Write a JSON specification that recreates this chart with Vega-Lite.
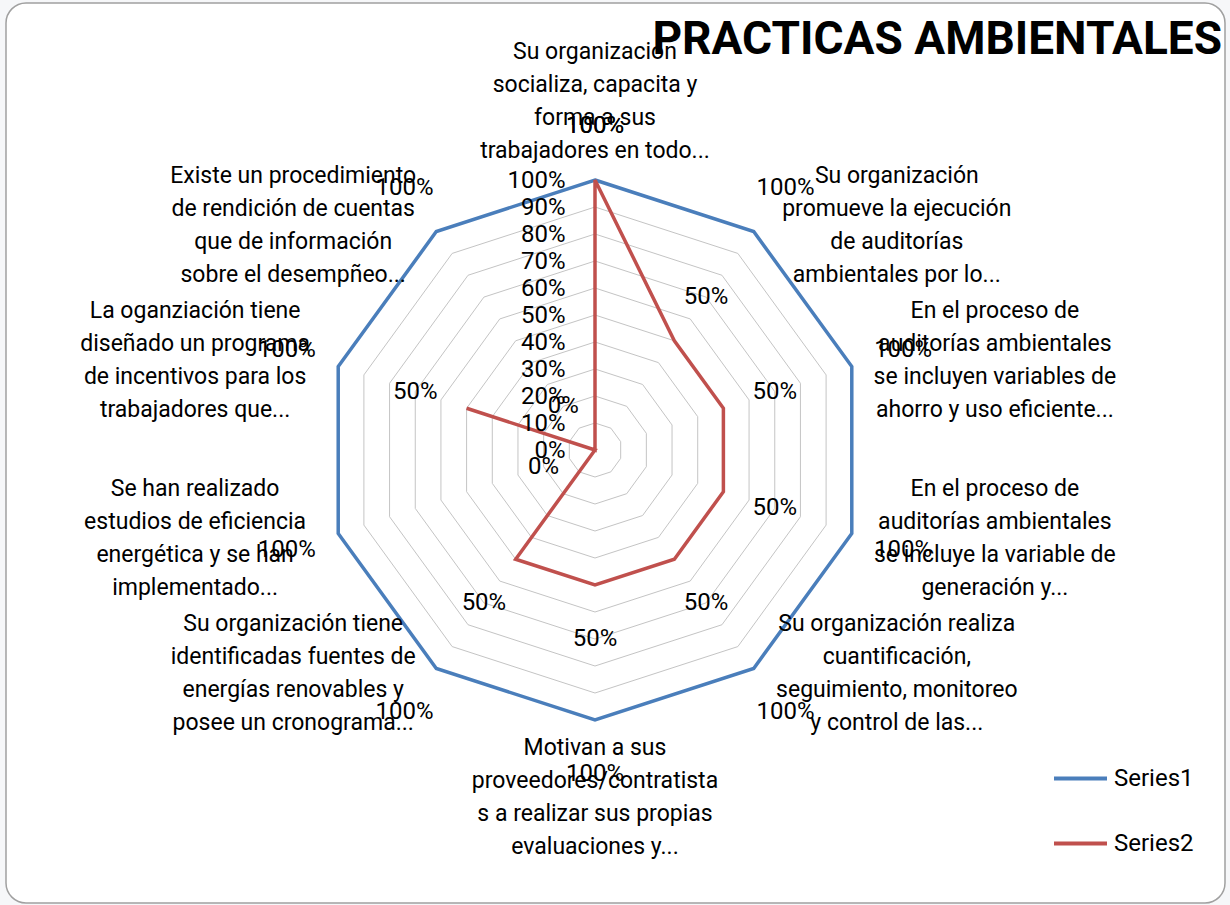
{
  "$schema": "https://vega.github.io/schema/vega-lite/v6.json",
  "width": 1219,
  "height": 900,
  "autosize": {"type": "none"},
  "padding": {"left": 6, "top": 3, "right": 5, "bottom": 2},
  "background": "#f6f7f9",
  "title": {
    "text": "PRACTICAS AMBIENTALES",
    "font": "Roboto",
    "fontSize": 46,
    "fontWeight": "bold",
    "color": "#000000",
    "anchor": "end",
    "frame": "group",
    "orient": "top",
    "baseline": "alphabetic",
    "offset": -52,
    "dx": -3,
    "dy": 45
  },
  "datasets": {
    "cats": [
      {"i": 0, "lines": ["Su organización", "socializa, capacita y", "forma a sus", "trabajadores en todo..."]},
      {"i": 1, "lines": ["Su organización", "promueve la ejecución", "de auditorías", "ambientales por lo..."]},
      {"i": 2, "lines": ["En el proceso de", "auditorías ambientales", "se incluyen variables de", "ahorro y uso eficiente..."]},
      {"i": 3, "lines": ["En el proceso de", "auditorías ambientales", "se incluye la variable de", "generación y..."]},
      {"i": 4, "lines": ["Su organización realiza", "cuantificación,", "seguimiento, monitoreo", "y control de las..."]},
      {"i": 5, "lines": ["Motivan a sus", "proveedores/contratista", "s a realizar sus propias", "evaluaciones y..."]},
      {"i": 6, "lines": ["Su organización tiene", "identificadas fuentes de", "energías renovables y", "posee un cronograma..."]},
      {"i": 7, "lines": ["Se han realizado", "estudios de eficiencia", "energética y se han", "implementado..."]},
      {"i": 8, "lines": ["La oganziación tiene", "diseñado un programa", "de incentivos para los", "trabajadores que..."]},
      {"i": 9, "lines": ["Existe un procedimiento", "de rendición de cuentas", "que de información", "sobre el desempñeo..."]}
    ],
    "vals": [
      {"i": 0, "series": "Series1", "value": 1},
      {"i": 1, "series": "Series1", "value": 1},
      {"i": 2, "series": "Series1", "value": 1},
      {"i": 3, "series": "Series1", "value": 1},
      {"i": 4, "series": "Series1", "value": 1},
      {"i": 5, "series": "Series1", "value": 1},
      {"i": 6, "series": "Series1", "value": 1},
      {"i": 7, "series": "Series1", "value": 1},
      {"i": 8, "series": "Series1", "value": 1},
      {"i": 9, "series": "Series1", "value": 1},
      {"i": 0, "series": "Series2", "value": 1},
      {"i": 1, "series": "Series2", "value": 0.5},
      {"i": 2, "series": "Series2", "value": 0.5},
      {"i": 3, "series": "Series2", "value": 0.5},
      {"i": 4, "series": "Series2", "value": 0.5},
      {"i": 5, "series": "Series2", "value": 0.5},
      {"i": 6, "series": "Series2", "value": 0.5},
      {"i": 7, "series": "Series2", "value": 0},
      {"i": 8, "series": "Series2", "value": 0.5},
      {"i": 9, "series": "Series2", "value": 0}
    ],
    "levels": [
      {"level": 0.1, "k": [0, 1, 2, 3, 4, 5, 6, 7, 8, 9]},
      {"level": 0.2, "k": [0, 1, 2, 3, 4, 5, 6, 7, 8, 9]},
      {"level": 0.3, "k": [0, 1, 2, 3, 4, 5, 6, 7, 8, 9]},
      {"level": 0.4, "k": [0, 1, 2, 3, 4, 5, 6, 7, 8, 9]},
      {"level": 0.5, "k": [0, 1, 2, 3, 4, 5, 6, 7, 8, 9]},
      {"level": 0.6, "k": [0, 1, 2, 3, 4, 5, 6, 7, 8, 9]},
      {"level": 0.7, "k": [0, 1, 2, 3, 4, 5, 6, 7, 8, 9]},
      {"level": 0.8, "k": [0, 1, 2, 3, 4, 5, 6, 7, 8, 9]},
      {"level": 0.9, "k": [0, 1, 2, 3, 4, 5, 6, 7, 8, 9]},
      {"level": 1.0, "k": [0, 1, 2, 3, 4, 5, 6, 7, 8, 9]}
    ]
  },
  "encoding": {
    "x": {"field": "px", "type": "quantitative", "scale": {"domain": [-2.18148, 2.33333], "nice": false, "zero": false}, "axis": null},
    "y": {
      "field": "py", "type": "quantitative",
      "scale": {"domain": [-1.67778, 1.65556], "nice": false, "zero": false},
      "axis": {
        "title": null,
        "values": [0, 0.1, 0.2, 0.3, 0.4, 0.5, 0.6, 0.7, 0.8, 0.9, 1],
        "format": ".0%",
        "domain": false,
        "ticks": false,
        "tickSize": 0,
        "grid": false,
        "labelPadding": 0,
        "offset": -559,
        "labelFont": "Roboto",
        "labelFontSize": 24,
        "labelColor": "#000000",
        "labelOverlap": false,
        "labelBound": false,
        "zindex": 1
      }
    }
  },
  "layer": [
    {
      "data": {"name": "levels"},
      "transform": [
        {"flatten": ["k"]},
        {"calculate": "datum.level * sin(datum.k * PI / 5)", "as": "px"},
        {"calculate": "datum.level * cos(datum.k * PI / 5)", "as": "py"}
      ],
      "mark": {"type": "line", "interpolate": "linear-closed", "stroke": "#c4c4c4", "strokeWidth": 1},
      "encoding": {
        "detail": {"field": "level", "type": "nominal"},
        "order": {"field": "k", "type": "quantitative"}
      }
    },
    {
      "data": {"name": "vals"},
      "transform": [
        {"calculate": "datum.value * sin(datum.i * PI / 5)", "as": "px"},
        {"calculate": "datum.value * cos(datum.i * PI / 5)", "as": "py"}
      ],
      "mark": {"type": "line", "interpolate": "linear-closed", "strokeWidth": 3.5, "strokeJoin": "miter"},
      "encoding": {
        "color": {
          "field": "series", "type": "nominal",
          "scale": {"domain": ["Series1", "Series2"], "range": ["#4a7ebb", "#c0504d"]},
          "legend": {
            "title": null,
            "orient": "none",
            "legendX": 1046,
            "legendY": 747,
            "padding": 0,
            "symbolType": "stroke",
            "symbolSize": 2809,
            "symbolStrokeWidth": 4,
            "rowPadding": 24,
            "labelOffset": 5,
            "labelFont": "Roboto",
            "labelFontSize": 24,
            "labelColor": "#000000"
          }
        },
        "order": {"field": "i", "type": "quantitative"}
      }
    },
    {
      "data": {"name": "cats"},
      "transform": [
        {"calculate": "sin(datum.i * PI / 5)", "as": "s"},
        {"calculate": "cos(datum.i * PI / 5)", "as": "c"},
        {"calculate": "datum.s + (abs(datum.s) > 0.1 ? (datum.s > 0 ? 0.53 : -0.53) : 0)", "as": "px"},
        {"calculate": "datum.c + (abs(datum.s) < 0.1 ? (datum.c > 0 ? 0.29 : -0.29) : (datum.c > 0 ? 0.02 : -0.02))", "as": "py"}
      ],
      "mark": {"type": "text", "align": "center", "baseline": "middle", "dy": -50, "font": "Roboto", "fontSize": 23, "lineHeight": 33, "color": "#000000"},
      "encoding": {
        "text": {"field": "lines"}
      }
    },
    {
      "data": {"name": "vals"},
      "transform": [
        {"calculate": "(datum.value + 0.2) * sin(datum.i * PI / 5)", "as": "px"},
        {"calculate": "(datum.value + 0.2) * cos(datum.i * PI / 5)", "as": "py"}
      ],
      "mark": {"type": "text", "align": "center", "baseline": "middle", "font": "Roboto", "fontSize": 24, "color": "#000000"},
      "encoding": {
        "text": {"field": "value", "type": "quantitative", "format": ".0%"}
      }
    }
  ],
  "config": {
    "view": {"stroke": "#a0a0a0", "strokeWidth": 1.5, "cornerRadius": 20, "fill": "#ffffff"}
  }
}
